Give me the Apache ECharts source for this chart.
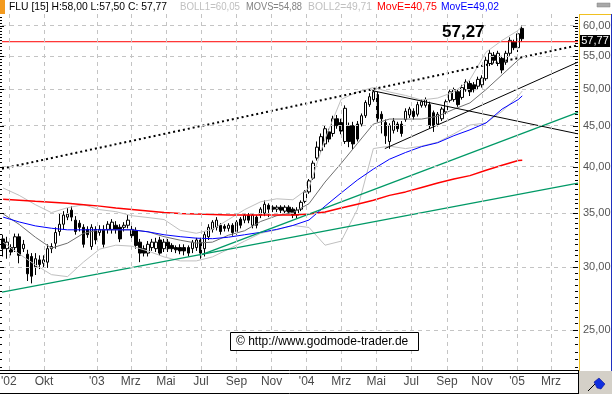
<!DOCTYPE html>
<html><head><meta charset="utf-8">
<script src="https://cdn.jsdelivr.net/npm/echarts@6/dist/echarts.min.js"></script>
<style>html,body{margin:0;padding:0;background:#fff}#c{width:612px;height:394px}</style>
</head><body><div id="c"></div>
<script>
// ---------- data ----------
const firstWeek = [2002, 6, 22];           // first weekly candle (Mon 22 Jul 2002)
const opens  = [32.5,31.6,31.7,31.7,32.7,31.6,31.1,30.9,30.0,30.6,30.3,30.4,31.6,32.1,33.2,33.9,34.6,35.3,34.3,34.0,33.6,33.4,31.8,33.4,33.1,33.4,33.4,33.4,33.8,33.6,33.6,33.8,33.4,33.3,32.2,31.6,31.2,31.7,31.6,32.4,31.6,32.2,31.9,31.7,31.7,31.7,31.7,31.6,31.7,32.4,31.6,32.7,33.4,33.6,33.8,33.7,33.5,33.8,33.2,34.4,34.3,34.8,33.8,34.6,34.8,35.0,35.8,35.6,35.4,35.6,35.2,35.6,35.4,34.8,35.4,36.2,37.2,38.7,41.0,41.9,42.7,44.2,44.0,45.9,45.4,43.0,45.0,45.0,45.2,45.2,46.3,47.8,48.5,49.2,46.5,45.4,43.0,44.4,45.2,45.2,45.8,46.4,46.9,46.5,47.7,47.7,47.8,46.7,45.2,45.9,46.8,48.4,48.5,49.6,48.8,49.9,50.8,50.6,50.4,50.6,51.5,53.8,55.1,53.8,54.6,54.0,55.4,57.2,56.3,59.5];
const closes = [31.6,32.2,31.3,32.7,31.0,32.0,29.4,29.2,30.7,30.2,30.6,31.6,31.8,33.1,33.9,34.8,34.9,34.6,33.2,33.6,32.0,32.9,33.6,32.4,33.4,32.0,33.9,34.1,33.4,32.5,33.8,34.3,32.8,31.9,31.2,31.2,32.0,32.2,32.2,31.2,32.2,31.6,31.6,31.5,31.4,31.4,31.2,32.2,32.4,31.2,32.9,33.6,34.1,34.3,33.2,33.5,33.8,33.1,34.1,33.8,34.8,34.3,34.8,33.8,35.4,35.9,35.4,35.4,35.6,35.3,35.6,35.1,34.8,35.3,36.1,37.2,38.4,40.4,42.3,43.6,44.6,43.3,45.9,45.0,44.3,47.3,43.0,42.7,43.3,46.3,48.1,48.9,49.6,45.9,45.9,43.7,45.0,45.6,44.6,44.0,46.9,47.2,46.2,47.8,48.2,48.5,45.0,45.0,46.5,47.2,48.2,49.6,49.9,47.8,50.2,51.0,49.6,49.9,51.4,51.6,54.3,55.4,54.3,55.4,52.8,55.4,57.5,56.3,58.6,57.77];
const lows   = [30.9,30.7,31.0,31.3,30.3,31.3,28.8,28.6,29.3,29.8,29.9,29.9,31.2,31.6,32.8,33.4,34.3,34.2,32.9,33.2,31.7,32.6,31.5,32.0,32.8,31.7,33.0,33.0,33.0,32.2,33.2,33.5,32.5,31.6,30.4,30.9,30.9,31.4,31.3,31.0,31.3,31.3,31.3,31.2,31.1,31.0,30.9,31.2,31.4,30.7,30.9,32.4,33.1,33.3,32.9,33.2,33.2,32.8,32.9,33.5,34.0,34.0,33.5,33.5,34.5,34.7,34.6,35.1,35.1,35.0,35.0,34.9,34.5,34.5,35.2,36.0,37.0,38.5,40.7,41.6,42.3,42.9,43.6,44.6,43.9,42.7,42.3,42.0,43.0,44.9,46.0,47.5,48.2,45.5,44.0,42.7,42.1,44.0,44.2,43.6,45.5,46.0,45.8,46.2,47.4,47.4,44.6,44.2,44.9,45.6,46.5,48.1,48.2,47.5,48.5,49.6,49.0,49.5,50.0,50.2,51.2,53.4,53.8,53.4,52.3,53.6,55.0,55.9,55.6,57.3];
const highs  = [32.9,32.7,32.0,33.0,33.0,32.4,31.5,31.2,31.2,31.0,31.0,32.0,32.1,33.6,35.0,35.2,35.5,35.7,34.7,34.3,33.9,33.7,33.9,33.7,33.8,33.8,34.2,34.4,34.2,33.9,34.1,34.8,33.8,33.6,32.5,31.9,32.3,32.5,32.6,32.7,32.5,32.5,32.1,31.9,32.0,32.0,31.9,32.4,32.6,32.6,33.2,33.9,34.3,34.6,34.0,33.9,34.0,34.0,34.3,34.6,35.0,35.0,35.0,34.8,35.6,36.3,36.0,35.8,35.8,35.8,35.8,35.8,35.6,35.6,36.3,37.4,38.6,40.7,43.0,44.0,45.0,44.6,46.3,46.4,45.9,47.7,45.4,45.5,45.6,46.6,48.4,49.4,50.0,49.6,46.9,45.8,45.3,46.0,45.5,45.6,47.3,47.5,47.3,48.2,48.5,48.8,48.2,47.0,46.8,47.5,48.5,49.9,50.2,49.9,50.6,51.4,51.2,51.0,51.8,52.0,54.8,55.9,55.6,55.8,55.0,55.8,58.0,57.6,59.0,60.0];

// indicator lines, read every 4th week (week index of each reading)
const sampleWeeks = [0,4,8,12,16,20,24,28,32,36,40,44,48,52,56,60,64,68,72,76,80,84,88,92,96,100,104,108,112,116,120,124,128,129];
const bollUpper = [37.62,36.83,35.86,35.05,35.55,35.86,35.35,35.15,34.74,34.56,34.36,33.31,33.03,33.40,34.36,35.35,36.16,36.47,36.37,37.62,43.34,48.53,49.57,50.21,49.57,49.08,48.44,48.72,49.57,51.35,55.58,57.50,59.16,60.05];
const movs      = [34.92,33.88,32.66,31.65,32.11,33.03,33.36,33.36,33.36,33.17,32.71,32.38,32.11,32.20,32.85,33.27,34.17,34.74,35.05,35.96,38.27,40.38,42.73,45.20,45.86,45.86,45.86,46.24,47.17,48.04,49.92,52.08,54.34,54.88];
const bollLower = [32.20,31.12,30.17,29.33,29.16,30.42,31.56,31.92,31.83,31.39,30.86,30.51,30.51,30.86,31.56,32.29,33.03,33.36,33.78,33.59,31.92,32.29,35.35,42.13,42.43,42.13,42.43,42.91,43.95,45.08,45.35,46.90,49.00,49.71];
const emaRed    = [36.42,36.32,36.21,36.11,36.01,35.86,35.71,35.51,35.36,35.21,35.06,34.96,34.92,34.87,34.82,34.82,34.82,34.82,34.82,34.92,35.11,35.51,35.91,36.32,36.83,37.20,37.68,38.16,38.60,38.98,39.59,40.15,40.71,40.75];
const emaBlue   = [34.60,34.12,33.74,33.51,33.36,33.36,33.36,33.36,33.36,33.17,32.89,32.71,32.57,32.52,32.66,32.89,33.12,33.40,33.78,34.31,35.71,37.09,38.48,39.72,40.86,41.66,42.37,42.85,43.72,44.46,45.35,47.20,48.50,49.02];

// trend lines [date, price]
const dottedTrend = [['2002-07-20', 39.77], ['2005-04-17', 56.69]];
const greenLong   = [['2002-07-20', 27.89], ['2005-04-17', 38.16]];
const greenShort  = [['2003-06-29', 31.00], ['2005-04-17', 46.74]];
const blackUp     = [['2004-05-16', 42.13], ['2005-04-17', 54.02]];
const blackDown   = [['2004-04-24', 49.76], ['2005-04-17', 43.95]];
const resistance  = 57.27;
const lastClose   = 57.77;

// axes
const xRange = ['2002-07-20', '2005-04-17'];
const yRange = [22.30, 62.02];
const yTicks = [25, 30, 35, 40, 45, 50, 55, 60];
const xTickDates  = ['2002-08-01','2002-10-01','2003-01-01','2003-03-01','2003-05-01','2003-07-01','2003-09-01','2003-11-01','2004-01-01','2004-03-01','2004-05-01','2004-07-01','2004-09-01','2004-11-01','2005-01-01','2005-03-01'];
const xTickLabels = ["'02",'Okt',"'03",'Mrz','Mai','Jul','Sep','Nov',"'04",'Mrz','Mai','Jul','Sep','Nov',"'05",'Mrz'];

// header texts
const headerTexts  = ['FLU [15] H:58,00 L:57,50 C: 57,77', 'BOLL1=60,05', 'MOVS=54,88', 'BOLL2=49,71', 'MovE=40,75', 'MovE=49,02'];
const headerColors = ['#000000', '#c0c0c0', '#808080', '#c0c0c0', '#ff0000', '#0000ff'];

// ---------- build ----------
const FONT = '"Liberation Sans", Arial, sans-serif';
const DAY = 86400000;
const t0 = new Date(firstWeek[0], firstWeek[1], firstWeek[2]).getTime();
const weekTime = i => t0 + i * 7 * DAY;
const candles = opens.map((o, i) => [weekTime(i), o, closes[i], lows[i], highs[i]]);
const sampled = arr => sampleWeeks.map((w, k) => [weekTime(w), arr[k]]);

function lineSeries(name, data, color, extra) {
  return Object.assign({
    name, type: 'line', data, showSymbol: false, symbol: 'none', silent: true,
    animation: false, lineStyle: { color, width: 1 }
  }, extra || {});
}

const gridLineStyle = { color: '#c4c4c4', width: 1, type: [4, 4] };
const markData = [];
yTicks.forEach(v => markData.push({
  yAxis: v, name: v.toFixed(2).replace('.', ','),
  label: { show: true, position: 'end', distance: 5, formatter: '{b}', color: '#555555', fontSize: 11, fontFamily: FONT }
}));
xTickDates.forEach((d, i) => markData.push({
  xAxis: d, name: xTickLabels[i],
  label: { show: true, position: 'start', distance: 6, formatter: '{b}', color: '#4a4a4a', fontSize: 12, fontFamily: FONT }
}));

const chart = echarts.init(document.getElementById('c'), null, { renderer: 'canvas' });
const option = {
  animation: false,
  backgroundColor: '#ffffff',
  grid: { left: 2, right: 34, top: 14, bottom: 24 },
  xAxis: { type: 'time', min: xRange[0], max: xRange[1],
    axisLine: { show: false }, axisTick: { show: false }, axisLabel: { show: false }, splitLine: { show: false } },
  yAxis: { type: 'log', logBase: 10, min: yRange[0], max: yRange[1], position: 'right',
    axisLine: { show: false }, axisTick: { show: false }, axisLabel: { show: false }, splitLine: { show: false } },
  series: [
    lineSeries('resistance', [[xRange[0], resistance], [xRange[1], resistance]], '#ff0000', {
      markLine: { silent: true, symbol: ['none', 'none'], animation: false, lineStyle: gridLineStyle, data: markData }
    }),
    lineSeries('BOLL1', sampled(bollUpper), '#c0c0c0'),
    lineSeries('BOLL2', sampled(bollLower), '#c0c0c0'),
    lineSeries('MOVS', sampled(movs), '#707070'),
    lineSeries('MovE red', sampled(emaRed), '#ff0000', { lineStyle: { color: '#ff0000', width: 1.5 } }),
    lineSeries('MovE blue', sampled(emaBlue), '#0000ff'),
    lineSeries('green long', greenLong, '#009966', { lineStyle: { color: '#009966', width: 1.3 } }),
    lineSeries('green short', greenShort, '#009966', { lineStyle: { color: '#009966', width: 1.3 } }),
    lineSeries('black up', blackUp, '#000000'),
    lineSeries('black down', blackDown, '#000000'),
    lineSeries('dotted', dottedTrend, '#000000', { lineStyle: { color: '#000000', width: 2, type: [2, 3] } }),
    {
      name: 'FLU', type: 'candlestick', data: candles, encode: { x: 0, y: [1, 2, 3, 4] },
      barWidth: 3, silent: true, animation: false,
      itemStyle: { color: '#ffffff', color0: '#000000', borderColor: '#000000', borderColor0: '#000000', borderWidth: 1 }
    }
  ]
};
chart.setOption(option);

// ---------- decorations ----------
const g = [];
// header (each text squeezed to the width it has in the original)
const headerX = [9, 180, 246, 308, 377, 441];
const headerW = [158, 60, 56, 64, 60, 58];
const mctx = document.createElement('canvas').getContext('2d');
mctx.font = '11px ' + FONT;
g.push({ type: 'rect', shape: { x: 0, y: 0, width: 5, height: 14 }, style: { fill: '#f39a1e' } });
headerTexts.forEach((t, i) => {
  const w = mctx.measureText(t).width || headerW[i];
  g.push({ type: 'text', x: headerX[i], y: 7, scaleX: Math.min(1, headerW[i] / w),
    style: { text: t, fill: headerColors[i], font: '11px ' + FONT, align: 'left', verticalAlign: 'middle' } });
});
g.push({ type: 'rect', shape: { x: 597, y: 3, width: 13, height: 4 }, style: { fill: '#a8a8a8', stroke: '#808080', lineWidth: 0.5 } });
// right axis panel
g.push({ type: 'line', shape: { x1: 579.5, y1: 14, x2: 579.5, y2: 371 }, style: { stroke: '#f0c020', lineWidth: 1 } });
g.push({ type: 'line', shape: { x1: 579, y1: 14.5, x2: 611, y2: 14.5 }, style: { stroke: '#f0c020', lineWidth: 1 } });
g.push({ type: 'line', shape: { x1: 611.5, y1: 14, x2: 611.5, y2: 371 }, style: { stroke: '#2030c0', lineWidth: 1 } });
// bottom strip
g.push({ type: 'line', shape: { x1: 0, y1: 370.5, x2: 579, y2: 370.5 }, style: { stroke: '#000', lineWidth: 1 } });
g.push({ type: 'line', shape: { x1: 0, y1: 373.5, x2: 579, y2: 373.5 }, style: { stroke: '#000', lineWidth: 1 } });
g.push({ type: 'line', shape: { x1: 0, y1: 393.5, x2: 579, y2: 393.5 }, style: { stroke: '#000', lineWidth: 1 } });
g.push({ type: 'line', shape: { x1: 578.5, y1: 370, x2: 578.5, y2: 394 }, style: { stroke: '#000', lineWidth: 1 } });
g.push({ type: 'rect', shape: { x: 579, y: 371, width: 33, height: 23 }, style: { fill: '#d4d0c8' } });
g.push({ type: 'line', shape: { x1: 588, y1: 391, x2: 597, y2: 382 }, style: { stroke: '#000', lineWidth: 1 } });
g.push({ type: 'polygon', shape: { points: [[594, 382], [599, 378], [605, 384], [601, 389], [597, 388]] }, style: { fill: '#1030e0', stroke: '#000080', lineWidth: 0.5 } });
// watermark
g.push({ type: 'rect', shape: { x: 230.5, y: 332.5, width: 188, height: 18 }, style: { fill: '#ffffff', stroke: '#000', lineWidth: 1 } });
g.push({ type: 'text', x: 236, y: 342, style: { text: '© http://www.godmode-trader.de', fill: '#000', font: '12px ' + FONT, align: 'left', verticalAlign: 'middle' } });
// ticks on the value scale
for (let k = 44; k <= 124; k++) {
  const v = k / 2;
  const y = Math.round(chart.convertToPixel({ yAxisIndex: 0 }, v)) + 0.5;
  if (y < 15 || y > 370) continue;
  const len = (v % 5 === 0) ? 5 : 3;
  g.push({ type: 'line', shape: { x1: 578 - len, y1: y, x2: 578, y2: y }, style: { stroke: '#000', lineWidth: 1 } });
  g.push({ type: 'line', shape: { x1: 0, y1: y, x2: len - 1, y2: y }, style: { stroke: '#000', lineWidth: 1 } });
}
// level annotations
const yRes = chart.convertToPixel({ yAxisIndex: 0 }, resistance);
g.push({ type: 'text', x: 442, y: yRes - 0.5, style: { text: resistance.toFixed(2).replace('.', ','), fill: '#000', font: 'bold 17px ' + FONT, align: 'left', verticalAlign: 'bottom' } });
const yLast = chart.convertToPixel({ yAxisIndex: 0 }, lastClose);
g.push({ type: 'rect', shape: { x: 580, y: Math.round(yLast) - 4, width: 30, height: 12 }, style: { fill: '#000' } });
g.push({ type: 'text', x: 595, y: Math.round(yLast) + 2, style: { text: lastClose.toFixed(2).replace('.', ','), fill: '#fff', font: '11px ' + FONT, align: 'center', verticalAlign: 'middle' } });

chart.setOption({ graphic: g.map(e => Object.assign({ silent: true, z: 100 }, e)) });
</script></body></html>
